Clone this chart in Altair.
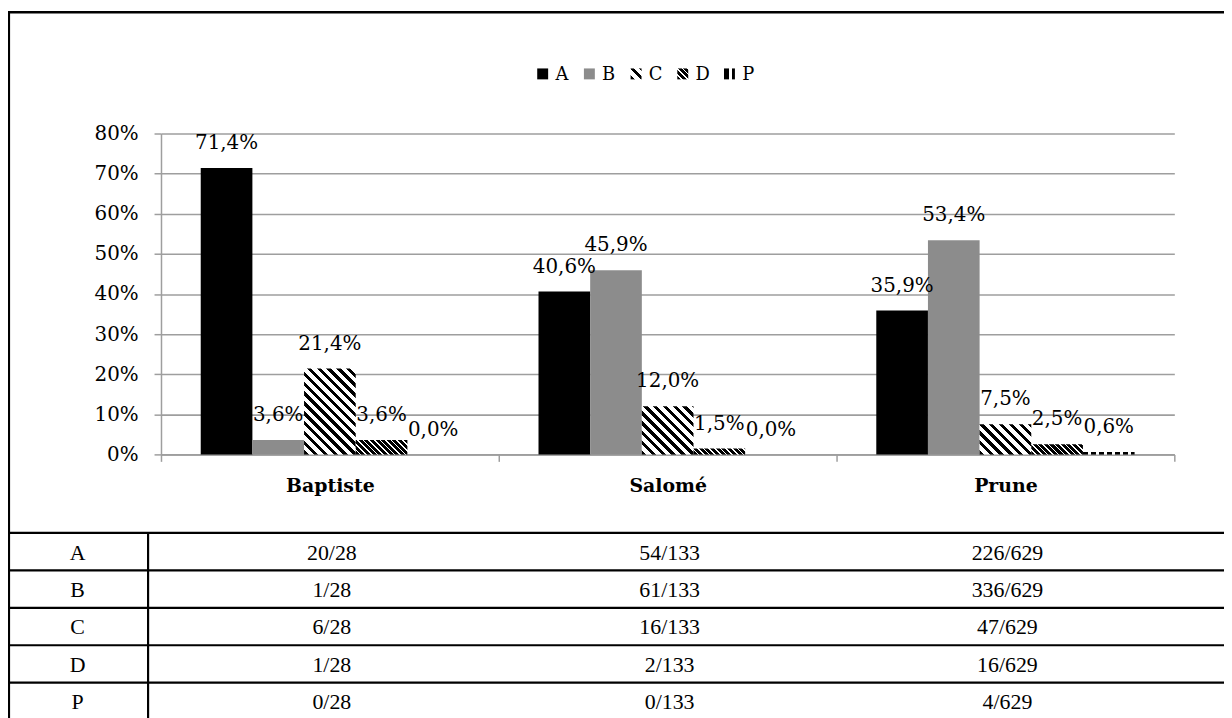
import math
import altair as alt
import pandas as pd

# ---------------- data ----------------
categories = ["Baptiste", "Salomé", "Prune"]
series = ["A", "B", "C", "D", "P"]

pct_A = [71.4, 40.6, 35.9]
pct_B = [3.6, 45.9, 53.4]
pct_C = [21.4, 12.0, 7.5]
pct_D = [3.6, 1.5, 2.5]
pct_P = [0.0, 0.0, 0.6]

count_A = [20, 54, 226]
count_B = [1, 61, 336]
count_C = [6, 16, 47]
count_D = [1, 2, 16]
count_P = [0, 0, 4]
totals = [28, 133, 629]

y_ticks = [0, 10, 20, 30, 40, 50, 60, 70, 80]

pcts = {"A": pct_A, "B": pct_B, "C": pct_C, "D": pct_D, "P": pct_P}
counts = {"A": count_A, "B": count_B, "C": count_C, "D": count_D, "P": count_P}

bars_df = pd.DataFrame(
    [{"cat": c, "series": s, "pct": pcts[s][i]} for s in series for i, c in enumerate(categories)]
)
legend_df = pd.DataFrame({"series": series, "row": ["legend"] * len(series)})
table_rows = []
for s in series:
    table_rows.append({"series": s, "col": 0, "txt": s})
    for j, c in enumerate(categories):
        table_rows.append({"series": s, "col": j + 1, "txt": f"{counts[s][j]}/{totals[j]}"})
table_df = pd.DataFrame(table_rows)

# ---------------- layout ----------------
W, H = 1020, 323
YMAX = 80
PXU = H / YMAX
BAR_W = 52.0
OFF_PAD = (W / 3 / BAR_W - 5) / 2

FONT = "DejaVu Serif"
TFONT = "Liberation Serif"
GRID = "#9e9e9e"

# ---------------- hatch fills (gradients) ----------------
def stops(n, dark_frac, dark="#000000", light="#ffffff"):
    out = []
    for k in range(n):
        a = k / n
        b = (k + dark_frac) / n
        c = (k + 1) / n
        out += [(a, dark), (b, dark), (b, light), (c, light)]
    return "[" + ",".join("{offset:%.5f,color:'%s'}" % (o, col) for o, col in out) + "]"

SQ2 = math.sqrt(2)


def diag(w, h, n, period, st):
    r = f"(({h})/({w}))"
    dx = f"({n * period * SQ2:.4f}/(({w})*(1+{r}*{r})))"
    return f"{{gradient:'linear',x1:0,y1:1,x2:{dx},y2:1-{dx}*{r},stops:{st}}}"


def vert(w, n, period, st):
    return f"{{gradient:'linear',x1:0,y1:0,x2:{n * period}/({w}),y2:0,stops:{st}}}"


ST_C = stops(24, 0.45)
ST_D = stops(30, 0.72)
ST_P = stops(20, 0.62)


def fill_expr(w, h):
    return (
        "datum.series=='A'?'#000000':"
        "datum.series=='B'?'#8c8c8c':"
        f"datum.series=='C'?{diag(w, h, 24, 7, ST_C)}:"
        f"datum.series=='D'?{diag(w, h, 30, 4, ST_D)}:"
        f"{vert(w, 20, 8, ST_P)}"
    )


# ---------------- main bar chart ----------------
x_enc = alt.X(
    "cat:N",
    sort=categories,
    scale=alt.Scale(domain=categories, paddingInner=0, paddingOuter=0),
    axis=alt.Axis(
        title=None,
        labelAngle=0,
        labelFont=FONT,
        labelFontSize=19,
        labelFontWeight="bold",
        labelColor="#000000",
        labelPadding=15,
        tickBand="extent",
        tickSize=7,
        tickColor=GRID,
        tickWidth=1.5,
        domainColor=GRID,
        domainWidth=1.5,
        grid=False,
    ),
)
xoff_enc = alt.XOffset(
    "series:N", sort=series, scale=alt.Scale(domain=series, paddingInner=0, paddingOuter=OFF_PAD)
)
y_enc = alt.Y(
    "pct:Q",
    stack=None,
    scale=alt.Scale(domain=[0, YMAX], nice=False, zero=True),
    axis=alt.Axis(
        title=None,
        values=y_ticks,
        labelExpr="datum.value + '%'",
        labelFont=FONT,
        labelFontSize=20,
        labelColor="#000000",
        labelPadding=16,
        tickSize=7,
        tickColor=GRID,
        tickWidth=1.5,
        domainColor=GRID,
        domainWidth=1.5,
        grid=True,
        gridColor=GRID,
        gridWidth=1.6,
    ),
)

bars = (
    alt.Chart(bars_df)
    .transform_calculate(fillv=fill_expr(BAR_W, f"datum.pct*{PXU:.5f}"))
    .mark_bar()
    .encode(x=x_enc, xOffset=xoff_enc, y=y_enc, color=alt.Color("fillv:N", scale=None))
)

labels = (
    alt.Chart(bars_df)
    .transform_calculate(lab="replace(format(datum.pct, '.1f'), '.', ',') + '%'")
    .mark_text(font=FONT, fontSize=20, color="#000000", baseline="middle", align="center", dy=-25)
    .encode(x=x_enc, xOffset=xoff_enc, y=y_enc, text="lab:N")
)

main = alt.layer(bars, labels)

# ---------------- legend ----------------
LEG_X0 = 378.7
LEG_STEP = 47
leg_x_scale = alt.Scale(domain=series, range=[LEG_X0, LEG_X0 + LEG_STEP * 5], paddingInner=0, paddingOuter=0)
leg_y = alt.Y("row:N", scale=alt.Scale(domain=["legend"], range=[-70, -50]), axis=None)

leg_sym = (
    alt.Chart(legend_df)
    .transform_calculate(fillv=fill_expr(11, 11))
    .mark_point(shape="square", filled=True, size=121, opacity=1, strokeWidth=0,
                xOffset=5.5 - LEG_STEP / 2)
    .encode(
        x=alt.X("series:N", sort=series, scale=leg_x_scale, axis=None),
        y=leg_y,
        color=alt.Color("fillv:N", scale=None),
    )
)
leg_txt = (
    alt.Chart(legend_df)
    .mark_text(font=FONT, fontSize=18, color="#000000", align="left", baseline="middle", dy=1,
               dx=18.3 - LEG_STEP / 2)
    .encode(
        x=alt.X("series:N", sort=series, scale=leg_x_scale, axis=None),
        y=leg_y,
        text="series:N",
    )
)
legend = alt.layer(leg_sym, leg_txt)

# ---------------- table ----------------
ROW_TOP = 402
ROW_H = 37.7
row_scale = alt.Scale(domain=series, range=[ROW_TOP, ROW_TOP + ROW_H * 5], paddingInner=0, paddingOuter=0)
col_scale = alt.Scale(domain=[0, 1, 2, 3], range=[-84, 172, 512, 852])

tab_txt = (
    alt.Chart(table_df)
    .mark_text(font=TFONT, fontSize=22, color="#000000", align="center", baseline="middle", dy=1)
    .encode(
        x=alt.X("col:Q", scale=col_scale, axis=None),
        y=alt.Y("series:N", sort=series, scale=row_scale, axis=None),
        text="txt:N",
    )
)
tab_rows = (
    alt.Chart(legend_df)
    .mark_rule(color="#000000", strokeWidth=2.2)
    .encode(
        y=alt.Y("series:N", sort=series, scale=row_scale, axis=None, bandPosition=0),
        x=alt.value(-154),
        x2=alt.value(1070),
    )
)
tab_div = (
    alt.Chart(legend_df.head(1))
    .mark_rule(color="#000000", strokeWidth=2.2)
    .encode(x=alt.value(-13), y=alt.value(ROW_TOP), y2=alt.value(600))
)
box_left = (
    alt.Chart(legend_df.head(1))
    .mark_rule(color="#000000", strokeWidth=2.2)
    .encode(x=alt.value(-153), y=alt.value(-123), y2=alt.value(600))
)
box_top = (
    alt.Chart(legend_df.head(1))
    .mark_rule(color="#000000", strokeWidth=2.5)
    .encode(y=alt.value(-122), x=alt.value(-154), x2=alt.value(1070))
)
table = alt.layer(tab_txt, tab_rows, tab_div, box_left, box_top)

chart = (
    alt.layer(main, legend, table)
    .resolve_scale(x="independent", y="independent")
    .properties(
        width=W,
        height=H,
        padding={"left": 154, "top": 124, "right": 50, "bottom": 263},
        autosize=alt.AutoSizeParams(type="none"),
        background="#ffffff",
    )
    .configure_view(strokeWidth=0)
)

chart.save("out.html", embed_options={"renderer": "svg", "actions": False})
